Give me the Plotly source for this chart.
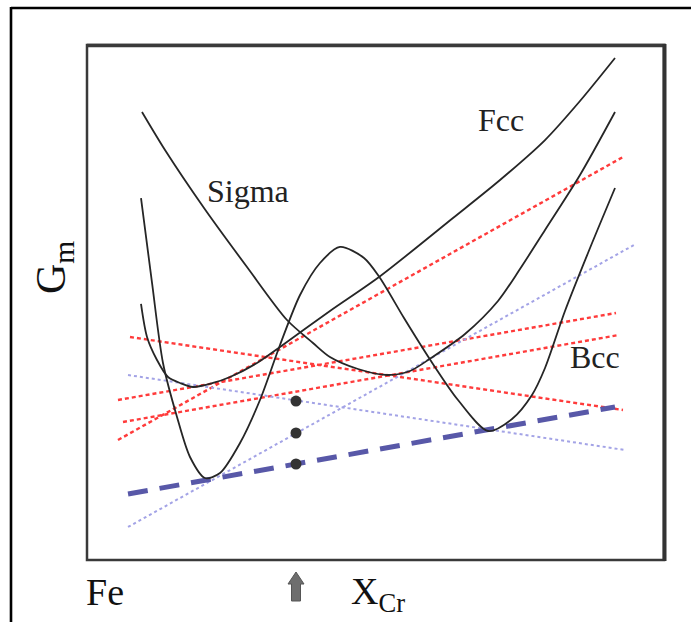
import plotly.graph_objects as go

# ---- data (x: composition fraction across the box, y: Gibbs energy, arbitrary units) ----
fcc_x = [0.0936, 0.1040, 0.1213, 0.1404, 0.1612, 0.1837, 0.2184, 0.2478, 0.2946, 0.3345,
         0.4211, 0.5061, 0.6343, 0.7158, 0.7938, 0.8544, 0.9151]
fcc_y = [0.4971, 0.4330, 0.3883, 0.3553, 0.3437, 0.3359, 0.3437, 0.3553, 0.3825, 0.4136,
         0.4835, 0.5495, 0.6641, 0.7379, 0.8155, 0.8913, 0.9748]

sigma_x = [0.0953, 0.1352, 0.2028, 0.2773, 0.3466, 0.3917, 0.4211, 0.4697, 0.5199, 0.5598,
           0.5962, 0.6551, 0.7123, 0.7504, 0.7938, 0.8544, 0.9151]
sigma_y = [0.8699, 0.7961, 0.6835, 0.5689, 0.4660, 0.4214, 0.3942, 0.3709, 0.3592, 0.3670,
           0.3922, 0.4388, 0.5029, 0.5650, 0.6408, 0.7476, 0.8699]

bcc_x = [0.0936, 0.1127, 0.1317, 0.1560, 0.1785, 0.2045, 0.2305, 0.2652, 0.2998, 0.3345,
         0.3692, 0.4038, 0.4385, 0.4801, 0.5078, 0.5494, 0.5962, 0.6430, 0.6950, 0.7366,
         0.7712, 0.7938, 0.8284, 0.8718, 0.9151]
bcc_y = [0.7029, 0.5379, 0.3825, 0.2777, 0.2000, 0.1592, 0.1689, 0.2272, 0.3107, 0.4175,
         0.5146, 0.5767, 0.6078, 0.5864, 0.5476, 0.4699, 0.3864, 0.3107, 0.2505, 0.2738,
         0.3204, 0.3728, 0.4835, 0.6058, 0.7223]

# red tangent lines (start/end)
red_lines = {
    "a": ([0.0537, 0.9289], [0.2330, 0.7825]),
    "b": ([0.0745, 0.9289], [0.4330, 0.2913]),
    "c": ([0.0537, 0.9168], [0.3107, 0.4796]),
    "d": ([0.0624, 0.9220], [0.2680, 0.4369]),
}
# light blue dotted tangent lines
blue_lines = {
    "e": ([0.0711, 0.9324], [0.3592, 0.2136]),
    "f": ([0.0711, 0.9480], [0.0641, 0.6117]),
}
# common tangent (thick dashed)
common_x = [0.0711, 0.9151]
common_y = [0.1282, 0.2971]

# points at the chosen composition
dot_x = [0.3622, 0.3622, 0.3622]
dot_y = [0.3087, 0.2466, 0.1864]

labels = ["Sigma", "Fcc", "Bcc"]
label_x = [0.279, 0.7175, 0.8804]
label_y = [0.7165, 0.8544, 0.3942]

W, H = 691, 622
ML, MR, MT, MB = 87, 27, 45, 62
PW, PH = W - ML - MR, H - MT - MB


def px(x):
    return (x - ML) / PW


def py(y):
    return (H - MB - y) / PH


fig = go.Figure()

for name, (xs, ys) in red_lines.items():
    fig.add_trace(go.Scatter(x=xs, y=ys, mode="lines",
                             line=dict(color="#ff3b3b", width=2.4, dash="4px,3px"),
                             hoverinfo="skip"))
for name, (xs, ys) in blue_lines.items():
    fig.add_trace(go.Scatter(x=xs, y=ys, mode="lines",
                             line=dict(color="#a3a3e6", width=2, dash="3px,3px"),
                             hoverinfo="skip"))
fig.add_trace(go.Scatter(x=common_x, y=common_y, mode="lines",
                         line=dict(color="#5858a8", width=5, dash="20px,12px"),
                         hoverinfo="skip"))

for xs, ys in [(fcc_x, fcc_y), (sigma_x, sigma_y), (bcc_x, bcc_y)]:
    fig.add_trace(go.Scatter(x=xs, y=ys, mode="lines",
                             line=dict(color="#262626", width=1.8, shape="spline", smoothing=0.8),
                             hoverinfo="skip"))

fig.add_trace(go.Scatter(x=dot_x, y=dot_y, mode="markers",
                         marker=dict(color="#333333", size=11), hoverinfo="skip"))

serif = "Liberation Serif, Times New Roman, serif"
ann = []
for t, x, y in zip(labels, label_x, label_y):
    ann.append(dict(text=t, x=x, y=y, xref="x", yref="y", showarrow=False,
                    font=dict(family=serif, size=32, color="#222")))
ann.append(dict(text="Fe", x=px(84), y=py(615), xref="paper", yref="paper", showarrow=False,
                font=dict(family=serif, size=38, color="#111")))
ann.append(dict(text="X<sub>Cr</sub>", x=px(349), y=py(620), xref="paper", yref="paper",
                xanchor="left", showarrow=False, font=dict(family=serif, size=38, color="#111")))
ann.append(dict(text="G<sub>m</sub>", x=px(26), y=py(268), xref="paper", yref="paper",
                textangle=-90, showarrow=False, font=dict(family=serif, size=42, color="#111")))

shapes = []
# plot box
shapes.append(dict(type="rect", xref="paper", yref="paper", x0=0, y0=0, x1=1, y1=1,
                   line=dict(color="#3a3a3a", width=2.5)))
shapes.append(dict(type="line", xref="paper", yref="paper", x0=0, y0=py(45.5), x1=px(666), y1=py(45.5),
                   line=dict(color="#3a3a3a", width=3.5)))
shapes.append(dict(type="line", xref="paper", yref="paper", x0=px(664.5), y0=py(44), x1=px(664.5), y1=py(561),
                   line=dict(color="#333333", width=4)))
# outer frame
shapes.append(dict(type="line", xref="paper", yref="paper", x0=px(11), y0=py(8), x1=px(695), y1=py(8),
                   line=dict(color="#000", width=2.6)))
shapes.append(dict(type="line", xref="paper", yref="paper", x0=px(11), y0=py(7), x1=px(11), y1=py(630),
                   line=dict(color="#000", width=2.6)))
# up arrow under the axis at the dots' composition
cx = 296
path = (f"M {px(cx)} {py(572)} L {px(cx + 8)} {py(584)} L {px(cx + 4.5)} {py(584)} "
        f"L {px(cx + 4.5)} {py(601)} L {px(cx - 4.5)} {py(601)} L {px(cx - 4.5)} {py(584)} "
        f"L {px(cx - 8)} {py(584)} Z")
shapes.append(dict(type="path", xref="paper", yref="paper", path=path,
                   fillcolor="#6e6e6e", line=dict(color="#555", width=1)))

fig.update_layout(
    width=W, height=H, margin=dict(l=ML, r=MR, t=MT, b=MB),
    paper_bgcolor="white", plot_bgcolor="white", showlegend=False,
    xaxis=dict(range=[0, 1], visible=False, fixedrange=True),
    yaxis=dict(range=[0, 1], visible=False, fixedrange=True),
    annotations=ann, shapes=shapes,
)

fig.write_html("out.html")
